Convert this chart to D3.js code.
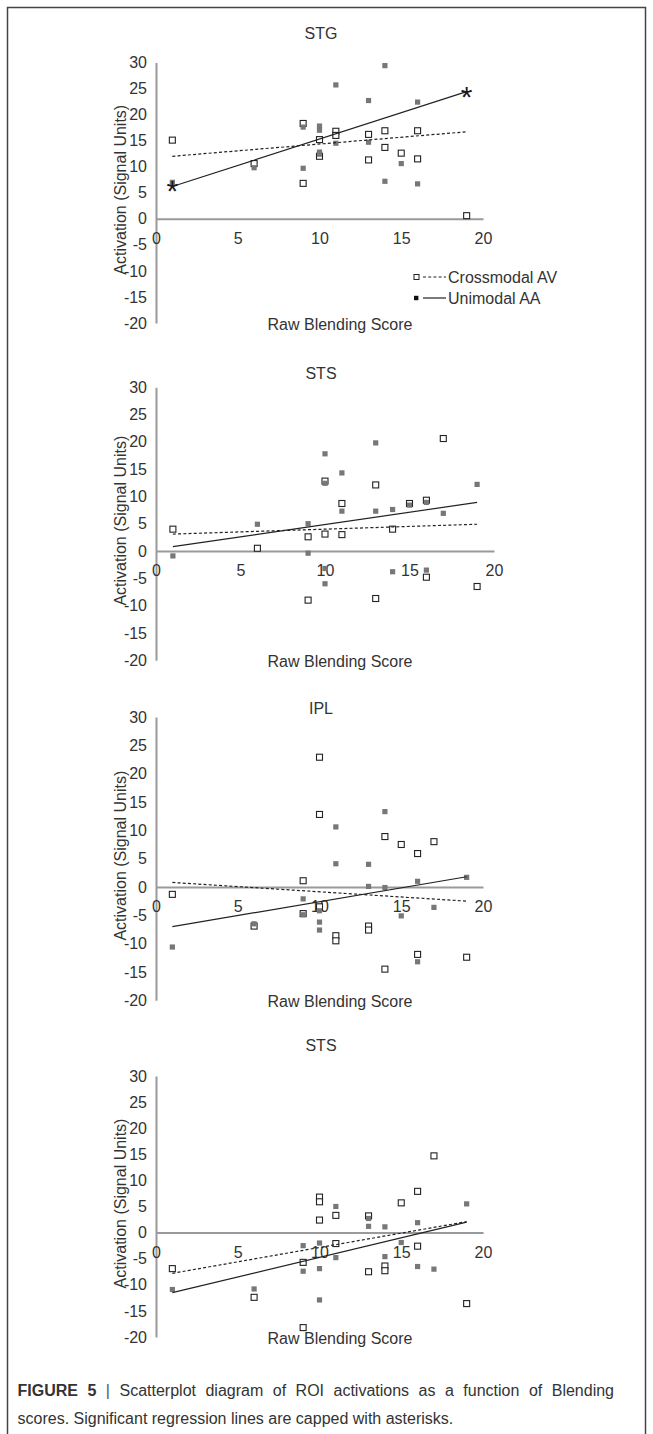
<!DOCTYPE html>
<html><head><meta charset="utf-8">
<script src="https://cdn.jsdelivr.net/npm/d3@7"></script>
<style>
body{margin:0;background:#fff}
svg{display:block}
text{font-family:"Liberation Sans",Arial,Helvetica,sans-serif}
</style></head><body>
<svg id="c" width="653" height="1434"></svg>
<script>
// ---------- data ----------
const panelTitles = ["STG", "STS", "IPL", "STS"];
const xTicks = [0, 5, 10, 15, 20];
const yTicks = [30, 25, 20, 15, 10, 5, 0, -5, -10, -15, -20];
const seriesNames = ["Crossmodal AV", "Unimodal AA"];
const xAxisTitle = "Raw Blending Score";
const yAxisTitle = "Activation (Signal Units)";
const fitX = [1, 19];

// Panel 1 — STG
const stgAVx = [1, 6, 9, 9, 10, 10, 11, 11, 13, 13, 14, 14, 15, 16, 16, 19];
const stgAVy = [15.1, 10.6, 18.3, 6.8, 15.2, 12.0, 16.8, 16.0, 16.2, 11.3, 16.9, 13.7, 12.6, 16.9, 11.5, 0.6];
const stgAAx = [1, 6, 9, 9, 10, 10, 10, 10, 11, 11, 13, 13, 14, 14, 15, 16, 16];
const stgAAy = [7.0, 9.8, 17.6, 9.7, 17.8, 17.0, 12.8, 12.4, 25.7, 14.5, 22.7, 14.7, 29.4, 7.2, 10.6, 22.4, 6.7];
const stgAVfit = [12.0, 16.7];
const stgAAfit = [6.2, 24.4];

// Panel 2 — STS
const sts1AVx = [1, 6, 9, 9, 10, 10, 11, 11, 13, 13, 14, 15, 16, 16, 17, 19];
const sts1AVy = [4.0, 0.5, 2.6, -9.0, 12.8, 3.1, 8.7, 3.0, 12.1, -8.7, 4.0, 8.7, 9.3, -4.8, 20.6, -6.5];
const sts1AAx = [1, 6, 9, 9, 10, 10, 10, 10, 11, 11, 13, 13, 14, 14, 15, 16, 16, 17, 19];
const sts1AAy = [-0.9, 4.9, 5.0, -0.4, 17.8, 12.4, -3.2, -6.0, 14.3, 7.3, 19.8, 7.3, 7.6, -3.8, 8.4, 8.9, -3.5, 6.9, 12.2];
const sts1AVfit = [3.1, 4.9];
const sts1AAfit = [0.8, 8.9];

// Panel 3 — IPL
const iplAVx = [1, 6, 9, 9, 10, 10, 10, 11, 11, 13, 13, 14, 14, 15, 16, 16, 17, 19];
const iplAVy = [-1.3, -6.9, 1.1, -4.7, 22.9, 12.8, -3.5, -8.6, -9.5, -6.9, -7.6, 8.9, -14.5, 7.5, 5.9, -11.9, 8.0, -12.4];
const iplAAx = [1, 6, 9, 9, 10, 10, 10, 11, 11, 13, 13, 14, 14, 15, 16, 16, 17, 19];
const iplAAy = [-10.6, -6.5, -2.1, -4.9, -4.2, -6.2, -7.6, 10.6, 4.1, 4.0, 0.1, 13.3, -0.1, -5.1, 1.0, -13.2, -3.6, 1.7];
const iplAVfit = [0.8, -2.5];
const iplAAfit = [-7.0, 1.8];

// Panel 4 — STS
const sts2AVx = [1, 6, 9, 9, 10, 10, 10, 11, 11, 13, 13, 14, 14, 15, 16, 16, 17, 19];
const sts2AVy = [-6.9, -12.4, -5.7, -18.2, 6.8, 5.9, 2.4, 3.3, -2.1, 3.2, -7.5, -6.4, -7.3, 5.7, 7.9, -2.6, 14.7, -13.6];
const sts2AAx = [1, 6, 9, 9, 10, 10, 10, 11, 11, 13, 13, 14, 14, 15, 16, 16, 17, 19];
const sts2AAy = [-10.9, -10.8, -2.5, -7.4, -2.0, -6.9, -12.9, 5.0, -4.8, 2.7, 1.2, 1.1, -4.6, -1.9, 1.9, -6.5, -7.0, 5.5];
const sts2AVfit = [-7.8, 2.1];
const sts2AAfit = [-11.5, 2.0];

const significant = [[false, true], [false, false], [false, false], [false, false]];

const captionBold = "FIGURE 5";
const captionLine1 = "Scatterplot diagram of ROI activations as a function of Blending";
const captionLine2 = "scores. Significant regression lines are capped with asterisks.";

// ---------- layout ----------
const layout = [
  {x0: 156, x1: 483, yTop: 62.5, yBot: 323, titleY: 33, legend: true},
  {x0: 156, x1: 494, yTop: 387.2, yBot: 660.2, titleY: 373},
  {x0: 156, x1: 483, yTop: 717, yBot: 1000.3, titleY: 708},
  {x0: 156, x1: 483, yTop: 1076, yBot: 1337, titleY: 1045}
];
const panelData = [
  {av: [stgAVx, stgAVy], aa: [stgAAx, stgAAy], avFit: stgAVfit, aaFit: stgAAfit},
  {av: [sts1AVx, sts1AVy], aa: [sts1AAx, sts1AAy], avFit: sts1AVfit, aaFit: sts1AAfit},
  {av: [iplAVx, iplAVy], aa: [iplAAx, iplAAy], avFit: iplAVfit, aaFit: iplAAfit},
  {av: [sts2AVx, sts2AVy], aa: [sts2AAx, sts2AAy], avFit: sts2AVfit, aaFit: sts2AAfit}
];

const TEXT = "#333";
const AXIS = "#9a9a9a";
const FILL = "#777";
const FS = 16;

const svg = d3.select("#c");

// outer frame
svg.append("rect").attr("x", 7.5).attr("y", 7.5).attr("width", 638).attr("height", 1460)
  .attr("fill", "none").attr("stroke", "#444").attr("stroke-width", 1.5);

const zip = (xs, ys) => xs.map((v, i) => [v, ys[i]]);
const fmt = v => String(v);   // plain hyphen-minus like the original

layout.forEach((cfg, i) => {
  const d = panelData[i];
  const x = d3.scaleLinear().domain([0, 20]).range([cfg.x0, cfg.x1]);
  const y = d3.scaleLinear().domain([-20, 30]).range([cfg.yBot, cfg.yTop]);
  const g = svg.append("g");

  // title
  g.append("text").attr("x", 321).attr("y", cfg.titleY).attr("dy", "0.36em")
    .attr("text-anchor", "middle").attr("font-size", FS).attr("fill", TEXT).text(panelTitles[i]);

  // y axis
  const ya = g.append("g").attr("transform", `translate(${x(0)},0)`)
    .call(d3.axisLeft(y).tickValues(yTicks).tickFormat(fmt).tickSize(0).tickSizeOuter(0).tickPadding(9));
  // x axis at zero
  const xa = g.append("g").attr("transform", `translate(0,${y(0)})`)
    .call(d3.axisBottom(x).tickValues(xTicks).tickFormat(fmt).tickSize(0).tickSizeOuter(0).tickPadding(14));
  [ya, xa].forEach(a => {
    a.attr("font-size", FS).attr("font-family", null);
    a.select(".domain").attr("stroke", AXIS).attr("stroke-width", 2);
    a.selectAll("text").attr("fill", TEXT);
  });

  // axis titles
  g.append("text").attr("x", 340).attr("y", cfg.yBot + 1).attr("dy", "0.36em")
    .attr("text-anchor", "middle").attr("font-size", FS).attr("fill", TEXT).text(xAxisTitle);
  const yc = (cfg.yTop + cfg.yBot) / 2 - 3;
  g.append("text").attr("transform", `translate(120,${yc}) rotate(-90)`).attr("dy", "0.36em")
    .attr("text-anchor", "middle").attr("font-size", FS).attr("fill", TEXT).text(yAxisTitle);

  // markers: open (AV)
  g.append("g").selectAll("rect").data(zip(d.av[0], d.av[1])).join("rect")
    .attr("x", p => x(p[0]) - 3).attr("y", p => y(p[1]) - 3)
    .attr("width", 6).attr("height", 6)
    .attr("fill", "#fff").attr("stroke", "#222").attr("stroke-width", 1.1);
  // markers: filled (AA)
  g.append("g").selectAll("rect").data(zip(d.aa[0], d.aa[1])).join("rect")
    .attr("x", p => x(p[0]) - 2.6).attr("y", p => y(p[1]) - 2.6)
    .attr("width", 5.2).attr("height", 5.2).attr("fill", FILL);

  // trend lines
  const line = d3.line().x(p => x(p[0])).y(p => y(p[1]));
  g.append("path").attr("d", line(zip(fitX, d.avFit))).attr("fill", "none")
    .attr("stroke", "#222").attr("stroke-width", 1.2).attr("stroke-dasharray", "3,2.2");
  g.append("path").attr("d", line(zip(fitX, d.aaFit))).attr("fill", "none")
    .attr("stroke", "#222").attr("stroke-width", 1.2);

  // asterisks for significant lines
  [[d.avFit, significant[i][0]], [d.aaFit, significant[i][1]]].forEach(([fit, sig]) => {
    if (!sig) return;
    fitX.forEach((fx, k) => {
      g.append("text").attr("x", x(fx)).attr("y", y(fit[k])).attr("dy", "0.5em")
        .attr("text-anchor", "middle").attr("font-size", 30).attr("fill", "#1a1a1a").text("*");
    });
  });

  // legend
  if (cfg.legend) {
    const lg = g.append("g");
    const rows = [277, 298];
    rows.forEach((ry, k) => {
      if (k === 0) {
        lg.append("rect").attr("x", 414).attr("y", ry - 2.5).attr("width", 5).attr("height", 5)
          .attr("fill", "#fff").attr("stroke", "#222").attr("stroke-width", 1);
      } else {
        lg.append("rect").attr("x", 414).attr("y", ry - 2.2).attr("width", 4.4).attr("height", 4.4)
          .attr("fill", "#111");
      }
      lg.append("line").attr("x1", 423).attr("x2", 446).attr("y1", ry).attr("y2", ry)
        .attr("stroke", "#222").attr("stroke-width", 1.2)
        .attr("stroke-dasharray", k === 0 ? "3,2.2" : null);
      lg.append("text").attr("x", 448).attr("y", ry).attr("dy", "0.36em")
        .attr("font-size", FS).attr("fill", TEXT).text(seriesNames[k]);
    });
  }
});

// caption (first line justified to the text column)
const CFS = 16;
const cap = svg.append("text").attr("x", 17.5).attr("y", 1396).attr("font-size", CFS).attr("fill", "#333");
cap.append("tspan").attr("font-weight", "bold").text(captionBold);
cap.append("tspan").attr("fill", "#555").text(" | ");
cap.append("tspan").text(captionLine1);
const natural = cap.node().getComputedTextLength();
const spaces = (captionBold + " | " + captionLine1).split(" ").length - 1;
const target = 614 - 17.5;
if (natural < target) cap.attr("word-spacing", (target - natural) / spaces);
svg.append("text").attr("x", 17.5).attr("y", 1424).attr("font-size", CFS).attr("fill", "#333")
  .text(captionLine2);
</script>
</body></html>
